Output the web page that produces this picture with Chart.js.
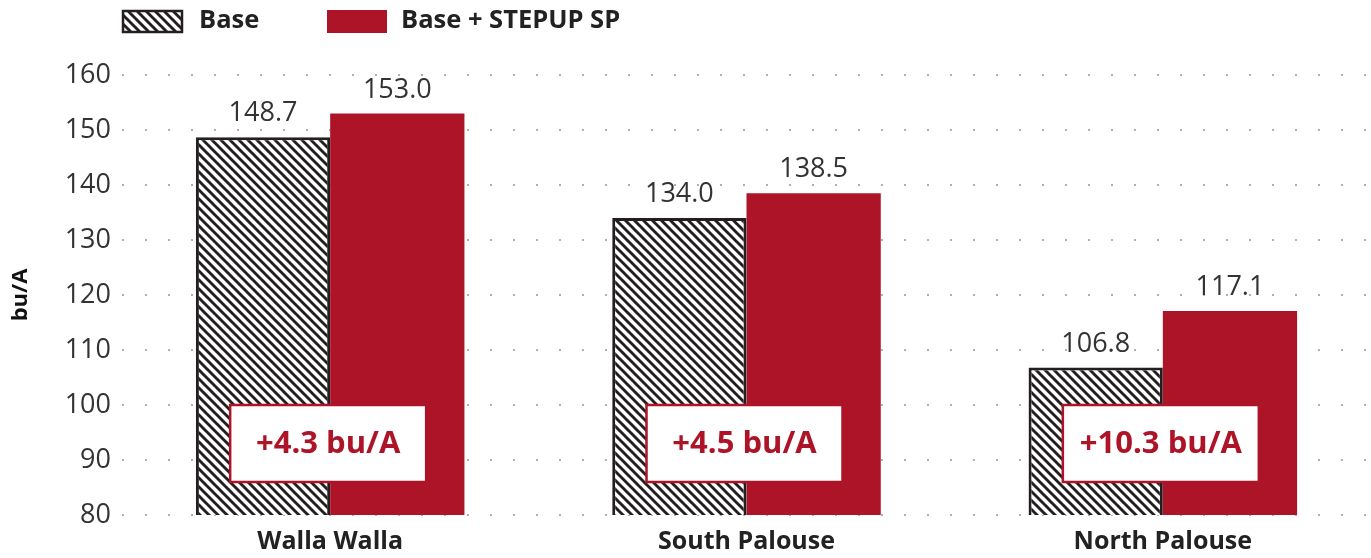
<!DOCTYPE html>
<html>
<head>
<meta charset="utf-8">
<script src="https://cdn.jsdelivr.net/npm/chart.js@4"></script>
<style>
  html, body { margin: 0; padding: 0; background: #ffffff; }
  #wrap { width: 1371px; height: 558px; position: relative; }
</style>
</head>
<body>
<div id="wrap"><canvas id="c" width="1371" height="558"></canvas></div>
<script>
// ---- data ----
const categories = ["Walla Walla", "South Palouse", "North Palouse"];
const baseValues = [148.7, 134.0, 106.8];
const stepupValues = [153.0, 138.5, 117.1];
const seriesNames = ["Base", "Base + STEPUP SP"];
const yTicks = [80, 90, 100, 110, 120, 130, 140, 150, 160];
const axisTitle = "bu/A";

// ---- style ----
const RED = "#ae1428";
const DARK = "#231f20";
const FONT = "'Open Sans', 'Noto Sans', sans-serif";

const ctx0 = document.getElementById("c").getContext("2d");
const hatch = (() => {
  const s = 9;
  const c = document.createElement("canvas");
  c.width = s; c.height = s;
  const g = c.getContext("2d");
  g.fillStyle = "#ffffff";
  g.fillRect(0, 0, s, s);
  g.strokeStyle = DARK;
  g.lineWidth = 2.9;
  for (const off of [-s, 0, s]) {
    g.beginPath();
    g.moveTo(off - 1, -1);
    g.lineTo(off + s + 1, s + 1);
    g.stroke();
  }
  return ctx0.createPattern(c, "repeat");
})();

const overlayPlugin = {
  id: "overlay",
  afterDatasetsDraw(chart) {
    const ctx = chart.ctx;
    const xs = chart.scales.x, ys = chart.scales.y;
    ctx.save();
    // value labels
    ctx.font = "27px " + FONT;
    ctx.fillStyle = "#333333";
    ctx.textAlign = "center";
    ctx.textBaseline = "alphabetic";
    chart.data.datasets.forEach((ds, di) => {
      const meta = chart.getDatasetMeta(di);
      meta.data.forEach((bar, i) => {
        ctx.fillText(ds.data[i].toFixed(1), bar.x, bar.y - 16);
      });
    });
    // difference boxes
    categories.forEach((cat, i) => {
      const diff = (stepupValues[i] - baseValues[i]).toFixed(1);
      const cx = xs.getPixelForValue(i) - 2;
      const top = ys.getPixelForValue(100);
      const bot = ys.getPixelForValue(86);
      const w = 196;
      ctx.fillStyle = "#ffffff";
      ctx.fillRect(cx - w / 2, top, w, bot - top);
      ctx.strokeStyle = RED;
      ctx.lineWidth = 2.5;
      ctx.strokeRect(cx - w / 2, top, w, bot - top);
      ctx.fillStyle = RED;
      ctx.font = "bold 31px " + FONT;
      ctx.textBaseline = "middle";
      ctx.fillText("+" + diff + " bu/A", cx, (top + bot) / 2 + 1);
    });
    // legend
    ctx.textAlign = "left";
    ctx.textBaseline = "middle";
    ctx.font = "bold 25.5px " + FONT;
    const ly = 21;
    ctx.fillStyle = hatch;
    ctx.fillRect(123, 11, 59, 21);
    ctx.strokeStyle = DARK;
    ctx.lineWidth = 2.5;
    ctx.strokeRect(123, 11, 59, 21);
    ctx.fillStyle = "#222222";
    ctx.fillText(seriesNames[0], 199, ly);
    ctx.fillStyle = RED;
    ctx.fillRect(327, 10, 60, 23);
    ctx.fillStyle = "#222222";
    ctx.fillText(seriesNames[1], 401, ly);
    ctx.restore();
  }
};

new Chart(document.getElementById("c"), {
  type: "bar",
  data: {
    labels: categories,
    datasets: [
      {
        label: seriesNames[0],
        data: baseValues,
        backgroundColor: hatch,
        borderColor: DARK,
        borderWidth: 3,
        borderSkipped: false,
        barPercentage: 1.0,
        categoryPercentage: 0.645
      },
      {
        label: seriesNames[1],
        data: stepupValues,
        backgroundColor: RED,
        borderWidth: 0,
        barPercentage: 1.0,
        categoryPercentage: 0.645
      }
    ]
  },
  options: {
    responsive: false,
    animation: false,
    devicePixelRatio: 1,
    layout: { padding: { top: 75, right: 0, bottom: 0, left: 0 } },
    plugins: {
      legend: { display: false },
      tooltip: { enabled: false }
    },
    scales: {
      x: {
        grid: { display: false, drawTicks: false },
        border: { display: false },
        ticks: {
          padding: 12,
          color: "#222222",
          font: { family: FONT, size: 25, weight: "bold" }
        },
        afterFit(s) { s.height = 43; }
      },
      y: {
        min: 80,
        max: 160,
        afterBuildTicks(s) { s.ticks = yTicks.map(v => ({ value: v })); },
        grid: {
          color: "#b0b0b0",
          lineWidth: 2,
          drawTicks: false
        },
        border: { display: false, dash: [2, 21] },
        ticks: {
          padding: 11,
          color: "#333333",
          font: { family: FONT, size: 27 }
        },
        title: {
          display: true,
          text: axisTitle,
          color: "#111111",
          font: { family: FONT, size: 22, weight: "bold" },
          padding: { top: 8, bottom: 0 }
        },
        afterFit(s) { s.width = 122; }
      }
    }
  },
  plugins: [overlayPlugin]
});
</script>
</body>
</html>
